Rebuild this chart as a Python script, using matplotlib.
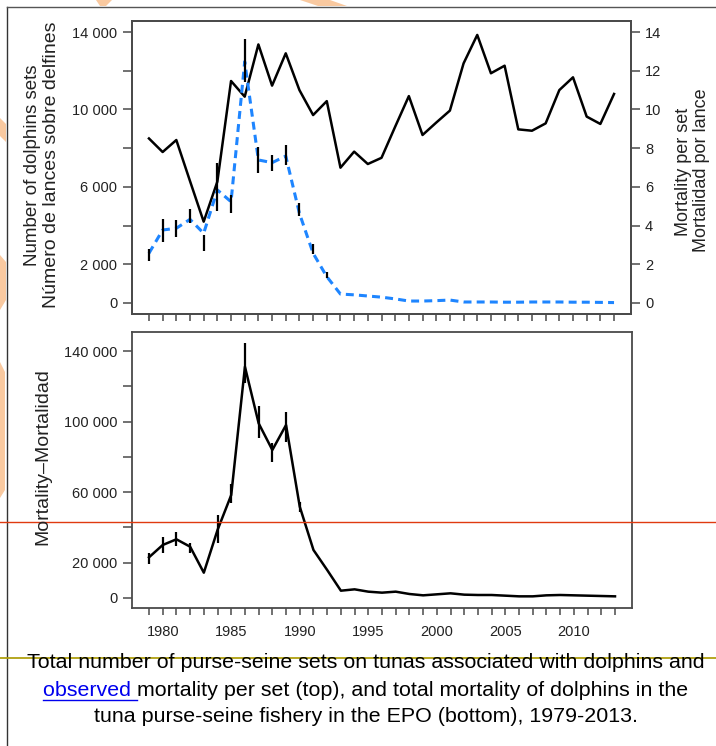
import numpy as np
import matplotlib
matplotlib.use("Agg")
import matplotlib.pyplot as plt
from matplotlib.lines import Line2D
from matplotlib.patches import Polygon

plt.rcParams['font.family'] = ['Liberation Sans', 'DejaVu Sans']

W, H = 716, 746

# data
years = list(range(1979, 2014))
sets = [8500, 7800, 8420, 6300, 4200, 6270, 11470, 10660, 13360, 11230,
        12900, 11000, 9710, 10430, 6990, 7820, 7180, 7500, 9110, 10690,
        8680, 9320, 9940, 12380, 13850, 11870, 12260, 8970, 8900, 9280,
        11000, 11660, 9630, 9250, 10800]
mort_per_set = [2.57, 3.77, 3.86, 4.32, 3.60, 5.84, 5.23, 12.47, 7.39, 7.25,
                7.59, 4.63, 2.57, 1.36, 0.46, 0.42, 0.36, 0.30, 0.21, 0.10,
                0.10, 0.12, 0.15, 0.05, 0.05, 0.05, 0.04, 0.04, 0.05, 0.05,
                0.05, 0.04, 0.04, 0.03, 0.02]
mps_err_years = list(range(1979, 1993))
mps_lo = [2.19, 3.17, 3.39, 4.12, 2.70, 4.77, 4.63, 11.43, 6.73, 6.82, 7.13, 4.49, 2.53, 1.28]
mps_hi = [2.77, 4.32, 4.29, 4.84, 3.51, 7.22, 5.58, 13.62, 8.07, 7.65, 8.16, 5.18, 3.05, 1.62]

mortality = [23070, 30040, 33270, 29080, 14340, 38540, 58380, 131100, 99010, 83890,
             98060, 51750, 27210, 15870, 4140, 4910, 3590, 3020, 3590, 2270,
             1510, 2080, 2650, 1890, 1700, 1700, 1320, 940, 940, 1510,
             1700, 1510, 1320, 1130, 940]
mort_err_years = [1979, 1980, 1981, 1982, 1984, 1985, 1986, 1987, 1988, 1989, 1990]
mort_lo = [19270, 25680, 29470, 25700, 31350, 54040, 121700, 90500, 77300, 88600, 48900]
mort_hi = [25330, 34750, 37220, 31000, 47040, 64620, 144400, 108800, 87700, 105600, 54600]

top_ticks = list(range(0, 14001, 2000))
top_labels = ['0', '2 000', '', '6 000', '', '10 000', '', '14 000']
right_ticks = list(range(0, 15, 2))
bot_ticks = list(range(0, 140001, 20000))
bot_labels = ['0', '20 000', '', '60 000', '', '100 000', '', '140 000']
year_labels = [1980, 1985, 1990, 1995, 2000, 2005, 2010]

caption1 = "Total number of purse-seine sets on tunas associated with dolphins and"
caption2a = "observed "
caption2b = "mortality per set (top), and total mortality of dolphins in the"
caption3 = "tuna purse-seine fishery in the EPO (bottom), 1979-2013."


def fx(x):
    return x / W


def fy(y):
    return 1 - y / H


spine_c = '#4a4a4a'
txt_c = '#222222'

fig = plt.figure(figsize=(W / 100, H / 100), dpi=100)


def style(ax):
    for s in ax.spines.values():
        s.set_color(spine_c)
        s.set_linewidth(1.3)
    ax.tick_params(direction='out', length=6.5, width=1.1, color=spine_c,
                   labelsize=10.5, labelcolor=txt_c)


# top panel
ax1 = fig.add_axes([fx(132), fy(314), fx(631) - fx(132), fy(21) - fy(314)])
ax1.plot(years, sets, color='black', lw=1.8, zorder=3)
ax1.set_xlim(1977.76, 2014.24)
ax1.set_ylim(-570, 14570)
ax1.set_yticks(top_ticks)
ax1.set_yticklabels(top_labels)
ax1.set_xticks(years)
ax1.set_xticklabels([])
style(ax1)
ax1.tick_params(axis='y', pad=4)
ax1.tick_params(axis='x', length=5)

ax2 = ax1.twinx()
ax2.plot(years, mort_per_set, color='#1e85ff', lw=2.2, ls=(0, (2.6, 1.7)), zorder=4)
ax2.vlines(mps_err_years, mps_lo, mps_hi, color='black', lw=1.6, zorder=5)
ax2.set_ylim(-0.57, 14.57)
ax2.set_yticks(right_ticks)
style(ax2)
ax2.tick_params(axis='y', pad=3.5)

fig.text(fx(33), fy(165), "Number of dolphins sets", rotation=90, ha='center',
         va='center', fontsize=13.5, color=txt_c)
fig.text(fx(52), fy(165), "Número de lances sobre delfines", rotation=90, ha='center',
         va='center', fontsize=14, color=txt_c)
fig.text(fx(684), fy(172), "Mortality per set", rotation=90, ha='center',
         va='center', fontsize=13, color=txt_c)
fig.text(fx(702), fy(170), "Mortalidad por lance", rotation=90, ha='center',
         va='center', fontsize=13, color=txt_c)

# bottom panel
ax3 = fig.add_axes([fx(132), fy(608), fx(632) - fx(132), fy(332) - fy(608)])
ax3.plot(years, mortality, color='black', lw=1.8, zorder=3)
ax3.vlines(mort_err_years, mort_lo, mort_hi, color='black', lw=1.6, zorder=4)
ax3.set_xlim(1977.76, 2014.24)
ax3.set_ylim(-5670, 150770)
ax3.set_yticks(bot_ticks)
ax3.set_yticklabels(bot_labels)
ax3.set_xticks(years, minor=True)
ax3.set_xticks(year_labels)
ax3.set_xticklabels([str(y) for y in year_labels])
style(ax3)
ax3.tick_params(axis='x', which='both', length=5, width=1.1, color=spine_c, pad=7)
ax3.tick_params(axis='y', pad=4)
fig.text(fx(43), fy(457), "Mortality–Mortalidad", rotation=90, ha='center',
         va='center', fontsize=14, color=txt_c)

# caption
cap_fs = 15.4
fig.text(fx(366), fy(663), caption1, ha='center', va='center', fontsize=cap_fs, color='black')
fig.text(fx(366), fy(716), caption3, ha='center', va='center', fontsize=cap_fs, color='black')
r = fig.canvas.get_renderer()
ta = fig.text(0, fy(690), caption2a, ha='left', va='center', fontsize=cap_fs, color='#0000ee')
tb = fig.text(0, fy(690), caption2b, ha='left', va='center', fontsize=cap_fs, color='black')
wa = ta.get_window_extent(r).width
wb = tb.get_window_extent(r).width
x0 = 366 - (wa + wb) / 2
ta.set_x(fx(x0))
tb.set_x(fx(x0 + wa))
fig.add_artist(Line2D([fx(x0), fx(x0 + wa)], [fy(700), fy(700)], color='#0000ee',
                      lw=1.0, transform=fig.transFigure))

# page marks in the screenshot
fig.add_artist(Line2D([fx(7), fx(7)], [fy(7), fy(746)], color='#333333', lw=1.0,
                      transform=fig.transFigure))
fig.add_artist(Line2D([fx(7), fx(716)], [fy(7), fy(7)], color='#555555', lw=1.0,
                      transform=fig.transFigure))
fig.add_artist(Line2D([0, 1], [fy(522), fy(522)], color='#e03a10', lw=1.0,
                      transform=fig.transFigure))
fig.add_artist(Line2D([0, 1], [fy(657.5), fy(657.5)], color='#b0a010', lw=1.3,
                      transform=fig.transFigure))
orange = '#f9c9a0'
for pts in [[(0, 118), (6, 124), (6, 142), (0, 136)],
            [(0, 255), (6, 262), (6, 300), (0, 310)],
            [(0, 362), (5, 372), (5, 490), (0, 498)],
            [(96, 0), (112, 0), (106, 6), (100, 6)],
            [(300, 0), (330, 0), (347, 6), (318, 6)]]:
    fig.add_artist(Polygon([(fx(a), fy(b)) for a, b in pts], closed=True,
                           facecolor=orange, edgecolor='none', transform=fig.transFigure))

fig.savefig("out.png", dpi=100)
